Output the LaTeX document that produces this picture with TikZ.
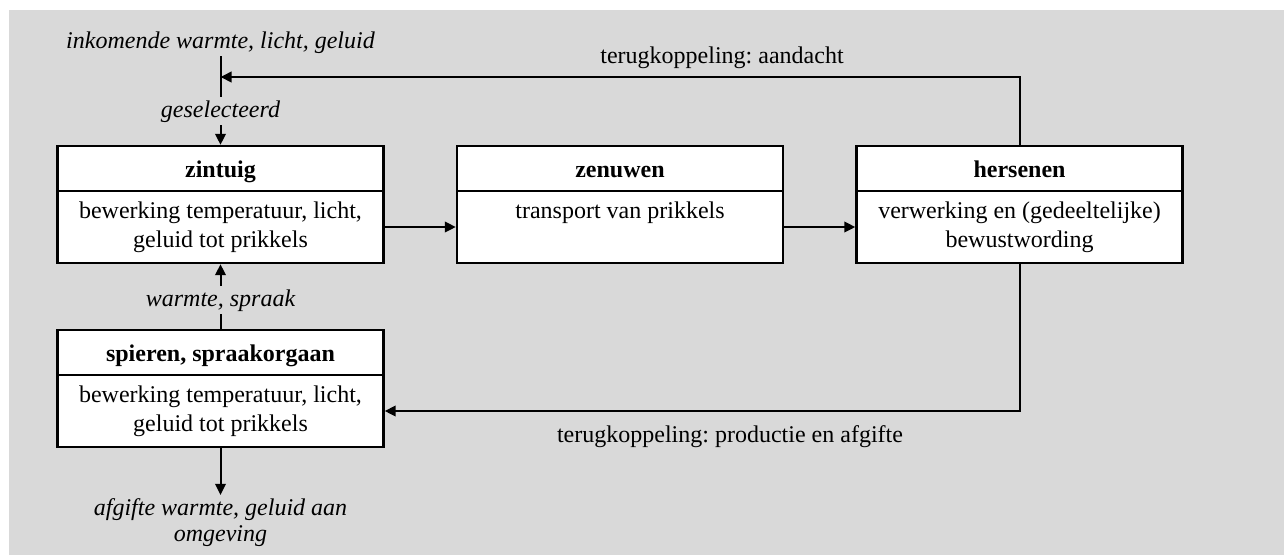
\documentclass[tikz,border=0pt]{standalone}
\usepackage{fontspec}
\setmainfont{Liberation Serif}
\usetikzlibrary{arrows.meta}
\definecolor{bggray}{HTML}{D9D9D9}
\frenchspacing
\begin{document}
\begin{tikzpicture}[x=1pt,y=-1pt,
  every node/.style={font=\fontsize{24}{29}\selectfont},
  head/.style={draw,line width=2.4pt,fill=white,minimum width=326pt,minimum height=45pt,inner sep=0pt,font=\fontsize{24}{29}\selectfont\bfseries,text height=19pt,text depth=1pt},
  body/.style={draw,line width=2.4pt,fill=white,minimum width=326pt,minimum height=72pt,inner sep=0pt},
  btxt/.style={anchor=base,align=center,inner sep=0pt},
  lbl/.style={font=\fontsize{24}{26}\selectfont\itshape,inner sep=3pt,anchor=base},
  plain/.style={anchor=base,inner sep=0pt},
  conn/.style={line width=2pt},
  arr/.style={line width=2pt,-{Triangle[length=11pt,width=10.5pt]}},
]
\useasboundingbox (0,0) rectangle (1284,555);
\fill[bggray] (9,10) rectangle (1284,555);

% boxes
\node[body] (zinb) at (220.5,227) {};
\node[head] (zinh) at (220.5,168.5) {zintuig};
\node[btxt] (zint) at ([yshift=-58pt]zinb.north) {bewerking temperatuur, licht,\\geluid tot prikkels};

\node[body] (zenb) at (620,227) {};
\node[head] (zenh) at (620,168.5) {zenuwen};
\node[btxt] (zent) at ([yshift=-29pt]zenb.north) {transport van prikkels};

\node[body] (hersb) at (1019.5,227) {};
\node[head] (hersh) at (1019.5,168.5) {hersenen};
\node[btxt] (herst) at ([yshift=-58pt]hersb.north) {verwerking en (gedeeltelijke)\\bewustwording};

\node[body] (spib) at (220.5,411) {};
\node[head] (spih) at (220.5,352.5) {spieren, spraakorgaan};
\node[btxt] (spit) at ([yshift=-58pt]spib.north) {bewerking temperatuur, licht,\\geluid tot prikkels};

% labels
\node[lbl] (ink) at (220.5,48) {inkomende warmte, licht, geluid};
\node[lbl] (sel) at (220.5,117) {geselecteerd};
\node[lbl] (ws) at (220.5,306) {warmte, spraak};
\node[lbl,align=center] (afg) at (220.5,541) {afgifte warmte, geluid aan\\omgeving};
\node[plain] (lta) at (722,63) {terugkoppeling: aandacht};
\node[plain] (ltp) at (730,442) {terugkoppeling: productie en afgifte};
\coordinate (join) at (220.5,77);

% connectors
\draw[conn] (ink) -- (sel);
\draw[arr] (sel) -- (zinh);
\draw[arr] (hersh.north) |- (join);
\draw[arr] (zinb.east) -- (zenb.west);
\draw[arr] (zenb.east) -- (hersb.west);
\draw[arr] (hersb.south) |- (spib.east);
\draw[conn] (spih) -- (ws);
\draw[arr] (ws) -- (zinb);
\draw[arr] (spib) -- (afg);
\end{tikzpicture}
\end{document}
